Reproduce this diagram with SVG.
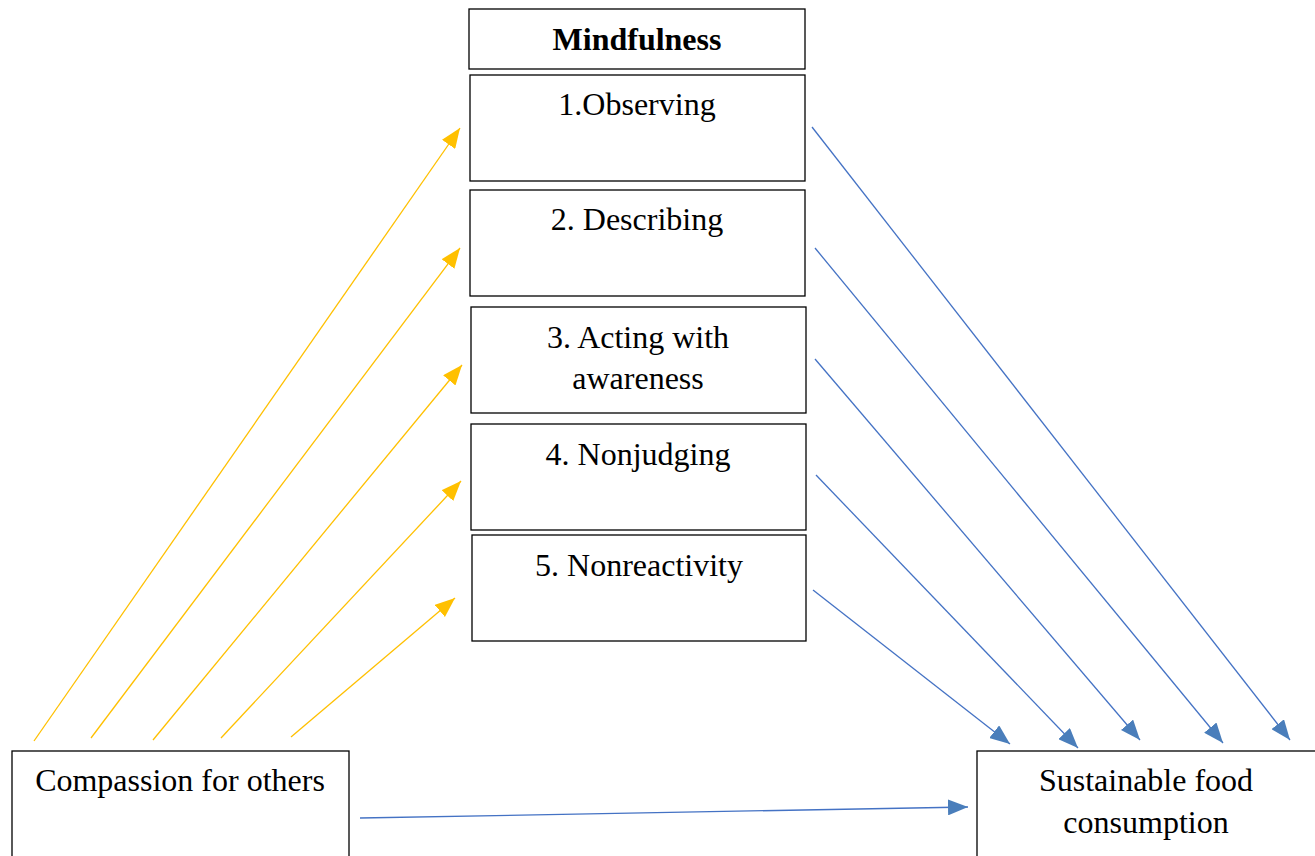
<svg xmlns="http://www.w3.org/2000/svg" width="1315" height="856" viewBox="0 0 1315 856">
<style>
.box{fill:#fff;stroke:#000;stroke-width:1.3}
.t{font-family:"Liberation Serif","Times New Roman",serif;font-size:32px;fill:#000;text-anchor:middle}
.b{font-weight:bold}
.y{stroke:#FFC000;stroke-width:1.3;fill:none;marker-end:url(#ay)}
.bl{stroke:#4472C4;stroke-width:1.3;fill:none;marker-end:url(#ab)}
</style>
<defs>
<marker id="ay" markerUnits="userSpaceOnUse" markerWidth="22" markerHeight="16" refX="20" refY="8" orient="auto">
<path d="M0,0 L20,8 L0,16 Z" fill="#FFC000"/>
</marker>
<marker id="ab" markerUnits="userSpaceOnUse" markerWidth="22" markerHeight="16" refX="20" refY="8" orient="auto">
<path d="M0,0 L20,8 L0,16 Z" fill="#4A7EBB"/>
</marker>
</defs>
<rect width="1315" height="856" fill="#fff"/>
<g id="connectors">
<line class="y" x1="34" y1="741" x2="460" y2="128"/>
<line class="y" x1="91" y1="738" x2="460" y2="248"/>
<line class="y" x1="153" y1="740" x2="462" y2="365"/>
<line class="y" x1="221" y1="738" x2="461" y2="481"/>
<line class="y" x1="291" y1="737" x2="455" y2="598"/>
<line class="bl" x1="812" y1="127" x2="1290" y2="740"/>
<line class="bl" x1="815" y1="248" x2="1223" y2="743"/>
<line class="bl" x1="815" y1="359" x2="1140" y2="740"/>
<line class="bl" x1="816" y1="475" x2="1078" y2="748"/>
<line class="bl" x1="813" y1="590" x2="1010" y2="744"/>
<line class="bl" x1="360" y1="818" x2="968" y2="807"/>
</g>
<g id="mindfulness">
<rect class="box" x="469" y="9" width="336" height="60"/>
<text class="t b" x="637" y="50">Mindfulness</text>
</g>
<g id="observing">
<rect class="box" x="470" y="75" width="335" height="106"/>
<text class="t" x="637" y="115">1.Observing</text>
</g>
<g id="describing">
<rect class="box" x="470" y="190" width="335" height="106"/>
<text class="t" x="637" y="230">2. Describing</text>
</g>
<g id="acting">
<rect class="box" x="471" y="307" width="335" height="106"/>
<text class="t" x="638" y="348">3. Acting with</text>
<text class="t" x="638" y="389">awareness</text>
</g>
<g id="nonjudging">
<rect class="box" x="471" y="424" width="335" height="106"/>
<text class="t" x="638" y="465">4. Nonjudging</text>
</g>
<g id="nonreactivity">
<rect class="box" x="472" y="535" width="334" height="106"/>
<text class="t" x="639" y="576">5. Nonreactivity</text>
</g>
<g id="compassion">
<rect class="box" x="12" y="751" width="337" height="120"/>
<text class="t" x="180" y="791">Compassion for others</text>
</g>
<g id="sustainable">
<rect class="box" x="977" y="751" width="345" height="120"/>
<text class="t" x="1146" y="791">Sustainable food</text>
<text class="t" x="1146" y="833">consumption</text>
</g>
</svg>
